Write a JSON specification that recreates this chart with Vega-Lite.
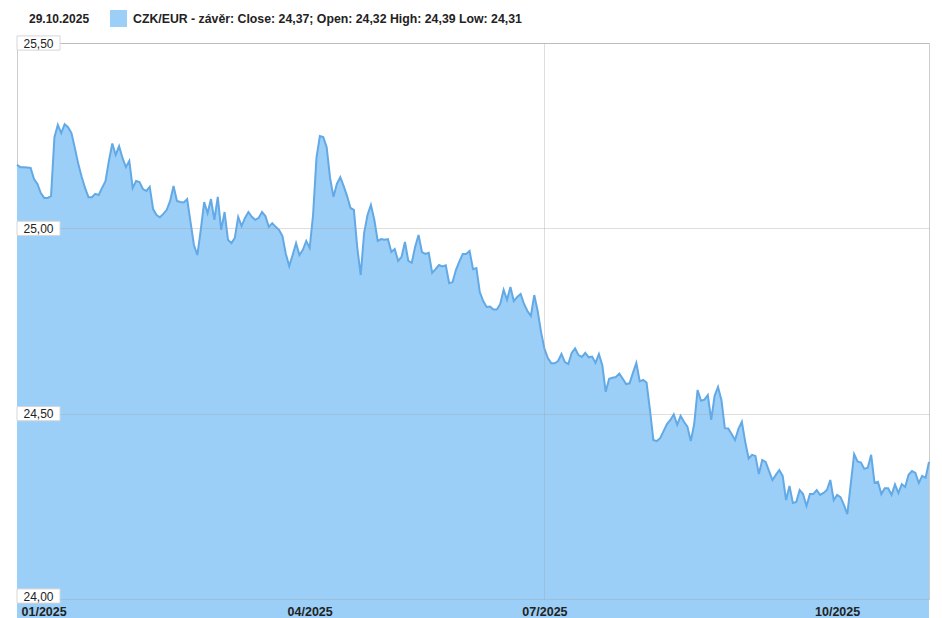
{
  "$schema": "https://vega.github.io/schema/vega-lite/v6.json",
  "width": 912,
  "height": 556,
  "autosize": {"type": "none"},
  "padding": {"left": 17, "top": 43, "right": 13, "bottom": 19},
  "background": "white",
  "config": {"view": {"stroke": "#cccccc", "strokeWidth": 1}, "font": "Liberation Sans"},
  "datasets": {
    "fx": [
      {"date":"2025-01-02","close":25.171},{"date":"2025-01-03","close":25.165},{"date":"2025-01-05","close":25.165},{"date":"2025-01-06","close":25.164},{"date":"2025-01-07","close":25.163},{"date":"2025-01-08","close":25.133},{"date":"2025-01-09","close":25.120},{"date":"2025-01-10","close":25.095},{"date":"2025-01-11","close":25.082},{"date":"2025-01-12","close":25.082},
      {"date":"2025-01-13","close":25.087},{"date":"2025-01-14","close":25.246},{"date":"2025-01-15","close":25.279},{"date":"2025-01-16","close":25.257},{"date":"2025-01-17","close":25.281},{"date":"2025-01-18","close":25.273},{"date":"2025-01-19","close":25.257},{"date":"2025-01-20","close":25.217},{"date":"2025-01-21","close":25.174},{"date":"2025-01-22","close":25.139},
      {"date":"2025-01-23","close":25.109},{"date":"2025-01-24","close":25.084},{"date":"2025-01-25","close":25.084},{"date":"2025-01-26","close":25.093},{"date":"2025-01-27","close":25.090},{"date":"2025-01-28","close":25.109},{"date":"2025-01-29","close":25.127},{"date":"2025-01-30","close":25.182},{"date":"2025-01-31","close":25.229},{"date":"2025-02-02","close":25.198},
      {"date":"2025-02-03","close":25.222},{"date":"2025-02-04","close":25.190},{"date":"2025-02-05","close":25.165},{"date":"2025-02-06","close":25.182},{"date":"2025-02-07","close":25.109},{"date":"2025-02-08","close":25.128},{"date":"2025-02-09","close":25.125},{"date":"2025-02-10","close":25.106},{"date":"2025-02-11","close":25.101},{"date":"2025-02-12","close":25.112},
      {"date":"2025-02-13","close":25.052},{"date":"2025-02-14","close":25.036},{"date":"2025-02-15","close":25.030},{"date":"2025-02-16","close":25.039},{"date":"2025-02-17","close":25.050},{"date":"2025-02-18","close":25.074},{"date":"2025-02-19","close":25.114},{"date":"2025-02-20","close":25.074},{"date":"2025-02-21","close":25.071},{"date":"2025-02-22","close":25.070},
      {"date":"2025-02-23","close":25.079},{"date":"2025-02-24","close":25.017},{"date":"2025-02-25","close":24.955},{"date":"2025-02-26","close":24.928},{"date":"2025-02-27","close":24.996},{"date":"2025-02-28","close":25.071},{"date":"2025-03-02","close":25.041},{"date":"2025-03-03","close":25.079},{"date":"2025-03-04","close":25.023},{"date":"2025-03-05","close":25.085},
      {"date":"2025-03-06","close":24.996},{"date":"2025-03-07","close":25.044},{"date":"2025-03-08","close":24.969},{"date":"2025-03-09","close":24.960},{"date":"2025-03-10","close":24.974},{"date":"2025-03-11","close":25.031},{"date":"2025-03-12","close":25.006},{"date":"2025-03-13","close":25.028},{"date":"2025-03-14","close":25.044},{"date":"2025-03-15","close":25.031},
      {"date":"2025-03-16","close":25.023},{"date":"2025-03-17","close":25.028},{"date":"2025-03-18","close":25.044},{"date":"2025-03-19","close":25.033},{"date":"2025-03-20","close":25.004},{"date":"2025-03-21","close":25.014},{"date":"2025-03-22","close":25.004},{"date":"2025-03-23","close":24.996},{"date":"2025-03-24","close":24.979},{"date":"2025-03-25","close":24.931},
      {"date":"2025-03-26","close":24.898},{"date":"2025-03-27","close":24.928},{"date":"2025-03-28","close":24.960},{"date":"2025-03-29","close":24.928},{"date":"2025-03-30","close":24.942},{"date":"2025-03-31","close":24.966},{"date":"2025-04-01","close":24.947},{"date":"2025-04-02","close":25.036},{"date":"2025-04-03","close":25.190},{"date":"2025-04-04","close":25.249},
      {"date":"2025-04-07","close":25.246},{"date":"2025-04-08","close":25.219},{"date":"2025-04-09","close":25.136},{"date":"2025-04-10","close":25.085},{"date":"2025-04-11","close":25.120},{"date":"2025-04-14","close":25.138},{"date":"2025-04-15","close":25.114},{"date":"2025-04-16","close":25.087},{"date":"2025-04-17","close":25.055},{"date":"2025-04-18","close":25.050},
      {"date":"2025-04-21","close":24.947},{"date":"2025-04-22","close":24.874},{"date":"2025-04-23","close":24.987},{"date":"2025-04-24","close":25.036},{"date":"2025-04-25","close":25.063},{"date":"2025-04-27","close":25.023},{"date":"2025-04-28","close":24.966},{"date":"2025-04-29","close":24.971},{"date":"2025-04-30","close":24.969},{"date":"2025-05-01","close":24.971},
      {"date":"2025-05-02","close":24.936},{"date":"2025-05-05","close":24.944},{"date":"2025-05-06","close":24.912},{"date":"2025-05-07","close":24.923},{"date":"2025-05-08","close":24.963},{"date":"2025-05-09","close":24.912},{"date":"2025-05-12","close":24.907},{"date":"2025-05-13","close":24.950},{"date":"2025-05-14","close":24.982},{"date":"2025-05-15","close":24.936},
      {"date":"2025-05-16","close":24.931},{"date":"2025-05-19","close":24.934},{"date":"2025-05-20","close":24.880},{"date":"2025-05-21","close":24.890},{"date":"2025-05-22","close":24.901},{"date":"2025-05-23","close":24.897},{"date":"2025-05-25","close":24.900},{"date":"2025-05-26","close":24.852},{"date":"2025-05-27","close":24.855},{"date":"2025-05-28","close":24.888},
      {"date":"2025-05-29","close":24.911},{"date":"2025-05-30","close":24.931},{"date":"2025-05-31","close":24.931},{"date":"2025-06-02","close":24.939},{"date":"2025-06-03","close":24.890},{"date":"2025-06-04","close":24.893},{"date":"2025-06-05","close":24.828},{"date":"2025-06-06","close":24.804},{"date":"2025-06-09","close":24.788},{"date":"2025-06-10","close":24.789},
      {"date":"2025-06-11","close":24.781},{"date":"2025-06-12","close":24.781},{"date":"2025-06-13","close":24.796},{"date":"2025-06-16","close":24.834},{"date":"2025-06-17","close":24.807},{"date":"2025-06-18","close":24.842},{"date":"2025-06-19","close":24.804},{"date":"2025-06-20","close":24.815},{"date":"2025-06-23","close":24.823},{"date":"2025-06-24","close":24.796},
      {"date":"2025-06-25","close":24.777},{"date":"2025-06-26","close":24.764},{"date":"2025-06-27","close":24.820},{"date":"2025-06-29","close":24.777},{"date":"2025-06-30","close":24.720},{"date":"2025-07-01","close":24.675},{"date":"2025-07-02","close":24.650},{"date":"2025-07-03","close":24.636},{"date":"2025-07-04","close":24.636},{"date":"2025-07-07","close":24.642},
      {"date":"2025-07-08","close":24.661},{"date":"2025-07-09","close":24.639},{"date":"2025-07-10","close":24.634},{"date":"2025-07-11","close":24.664},{"date":"2025-07-12","close":24.676},{"date":"2025-07-13","close":24.658},{"date":"2025-07-14","close":24.653},{"date":"2025-07-15","close":24.664},{"date":"2025-07-16","close":24.652},{"date":"2025-07-17","close":24.654},
      {"date":"2025-07-18","close":24.637},{"date":"2025-07-19","close":24.661},{"date":"2025-07-20","close":24.631},{"date":"2025-07-21","close":24.559},{"date":"2025-07-22","close":24.594},{"date":"2025-07-23","close":24.597},{"date":"2025-07-24","close":24.599},{"date":"2025-07-25","close":24.608},{"date":"2025-07-26","close":24.594},{"date":"2025-07-27","close":24.580},
      {"date":"2025-07-28","close":24.582},{"date":"2025-07-29","close":24.610},{"date":"2025-07-30","close":24.637},{"date":"2025-07-31","close":24.587},{"date":"2025-08-01","close":24.591},{"date":"2025-08-04","close":24.584},{"date":"2025-08-05","close":24.510},{"date":"2025-08-06","close":24.429},{"date":"2025-08-07","close":24.426},{"date":"2025-08-08","close":24.434},
      {"date":"2025-08-09","close":24.453},{"date":"2025-08-10","close":24.472},{"date":"2025-08-11","close":24.483},{"date":"2025-08-12","close":24.498},{"date":"2025-08-13","close":24.470},{"date":"2025-08-14","close":24.494},{"date":"2025-08-15","close":24.478},{"date":"2025-08-16","close":24.465},{"date":"2025-08-17","close":24.426},{"date":"2025-08-18","close":24.472},
      {"date":"2025-08-19","close":24.564},{"date":"2025-08-20","close":24.535},{"date":"2025-08-21","close":24.538},{"date":"2025-08-22","close":24.550},{"date":"2025-08-23","close":24.483},{"date":"2025-08-24","close":24.548},{"date":"2025-08-25","close":24.572},{"date":"2025-08-26","close":24.537},{"date":"2025-08-27","close":24.461},{"date":"2025-08-28","close":24.460},
      {"date":"2025-08-29","close":24.445},{"date":"2025-08-30","close":24.429},{"date":"2025-08-31","close":24.459},{"date":"2025-09-01","close":24.478},{"date":"2025-09-02","close":24.424},{"date":"2025-09-03","close":24.379},{"date":"2025-09-04","close":24.389},{"date":"2025-09-05","close":24.386},{"date":"2025-09-08","close":24.337},{"date":"2025-09-09","close":24.375},
      {"date":"2025-09-10","close":24.370},{"date":"2025-09-11","close":24.345},{"date":"2025-09-12","close":24.321},{"date":"2025-09-13","close":24.335},{"date":"2025-09-14","close":24.348},{"date":"2025-09-15","close":24.332},{"date":"2025-09-16","close":24.267},{"date":"2025-09-17","close":24.305},{"date":"2025-09-18","close":24.259},{"date":"2025-09-19","close":24.262},
      {"date":"2025-09-20","close":24.294},{"date":"2025-09-21","close":24.283},{"date":"2025-09-22","close":24.251},{"date":"2025-09-23","close":24.283},{"date":"2025-09-24","close":24.283},{"date":"2025-09-25","close":24.294},{"date":"2025-09-26","close":24.281},{"date":"2025-09-27","close":24.286},{"date":"2025-09-28","close":24.294},{"date":"2025-09-29","close":24.321},
      {"date":"2025-09-30","close":24.267},{"date":"2025-10-01","close":24.281},{"date":"2025-10-02","close":24.275},{"date":"2025-10-03","close":24.254},{"date":"2025-10-04","close":24.229},{"date":"2025-10-05","close":24.310},{"date":"2025-10-06","close":24.391},{"date":"2025-10-07","close":24.371},{"date":"2025-10-08","close":24.368},{"date":"2025-10-09","close":24.351},
      {"date":"2025-10-10","close":24.354},{"date":"2025-10-11","close":24.389},{"date":"2025-10-12","close":24.313},{"date":"2025-10-13","close":24.316},{"date":"2025-10-14","close":24.283},{"date":"2025-10-15","close":24.299},{"date":"2025-10-16","close":24.299},{"date":"2025-10-17","close":24.281},{"date":"2025-10-18","close":24.309},{"date":"2025-10-19","close":24.286},
      {"date":"2025-10-20","close":24.310},{"date":"2025-10-21","close":24.302},{"date":"2025-10-22","close":24.335},{"date":"2025-10-23","close":24.345},{"date":"2025-10-24","close":24.340},{"date":"2025-10-25","close":24.313},{"date":"2025-10-26","close":24.332},{"date":"2025-10-27","close":24.327},{"date":"2025-10-29","close":24.370}
    ],
    "ticks": [{"v": 24}, {"v": 24.5}, {"v": 25}, {"v": 25.5}]
  },
  "layer": [
    {
      "data": {"name": "fx"},
      "mark": {"type": "area", "opacity": 1},
      "encoding": {
        "x": {
          "field": "date", "type": "ordinal",
          "scale": {"type": "point", "padding": 0},
          "axis": {
            "title": null,
            "values": ["2025-01-02", "2025-04-01", "2025-07-01", "2025-10-01"],
            "labelExpr": "slice(datum.value, 5, 7) + '/' + slice(datum.value, 0, 4)",
            "domain": false, "ticks": false, "tickSize": 0,
            "labelPadding": 6, "labelFontSize": 12.5, "labelFontWeight": "bold", "labelColor": "#222222",
            "labelAngle": 0, "labelOverlap": false, "labelBound": false,
            "labelAlign": {"condition": {"test": "datum.value == '2025-01-02'", "value": "left"}, "value": "center"},
            "labelOffset": {"condition": {"test": "datum.value == '2025-01-02'", "value": 4}, "value": 0},
            "grid": true, "gridColor": "#a0a0a0",
            "gridOpacity": {"condition": {"test": "datum.value == '2025-07-01'", "value": 0.35}, "value": 0},
            "zindex": 1
          }
        },
        "y": {
          "field": "close", "type": "quantitative",
          "scale": {"domain": [24, 25.5], "zero": false, "nice": false},
          "axis": {
            "title": null, "values": [24, 24.5, 25, 25.5],
            "domain": false, "ticks": false, "tickSize": 0,
            "labelAlign": "left", "labelPadding": -6, "labelBaseline": "middle",
            "labelOffset": {"condition": {"test": "datum.value == 24", "value": -3}, "value": 0},
            "labelFontSize": 12, "labelColor": "#222222",
            "labelExpr": "replace(format(datum.value, '.2f'), '.', ',')",
            "labelOverlap": false, "labelBound": false, "labelFlush": false,
            "grid": true, "gridColor": "#a0a0a0", "gridOpacity": 0.35, "gridDash": [0, 43, 3000],
            "zindex": 1
          }
        },
        "color": {
          "datum": "CZK/EUR - závěr: Close: 24,37; Open: 24,32 High: 24,39 Low: 24,31",
          "scale": {"range": ["#9BCFF7"]},
          "legend": {
            "orient": "none", "legendX": 12, "legendY": -33,
            "title": "29.10.2025", "titleOrient": "left", "titlePadding": 20,
            "titleFontSize": 12, "titleFontWeight": "bold", "titleColor": "#222222",
            "symbolType": "square", "symbolSize": 289, "symbolStrokeWidth": 0, "symbolOpacity": 1,
            "labelFontSize": 12.3, "labelFontWeight": "bold", "labelColor": "#222222",
            "labelLimit": 600, "labelOffset": 6, "padding": 0
          }
        }
      }
    },
    {
      "data": {"name": "fx"},
      "mark": {"type": "line", "color": "#62A9E6", "strokeWidth": 2},
      "encoding": {
        "x": {"field": "date", "type": "ordinal"},
        "y": {"field": "close", "type": "quantitative"}
      }
    },
    {
      "data": {"name": "ticks"},
      "mark": {"type": "point", "shape": "M0,-0.33H2V0.33H0Z", "size": 1849, "filled": true, "fill": "white", "stroke": "#d6d6d6", "strokeWidth": 1, "opacity": 1, "yOffset": {"expr": "datum.v == 24 ? -3 : 0"}},
      "encoding": {
        "x": {"datum": "2025-01-02", "type": "ordinal"},
        "y": {"field": "v", "type": "quantitative"}
      }
    }
  ]
}
